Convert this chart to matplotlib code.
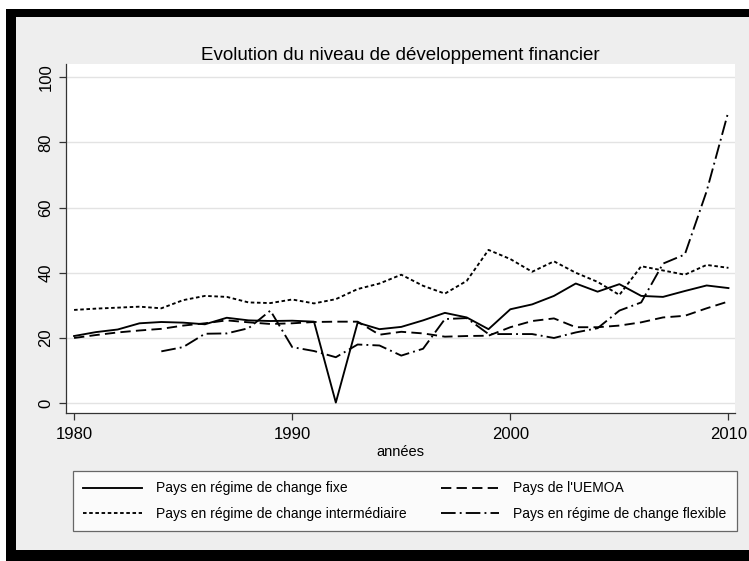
import matplotlib
matplotlib.use("Agg")
import matplotlib.pyplot as plt
from matplotlib.patches import Rectangle

plt.rcParams['font.family'] = ['Liberation Sans', 'DejaVu Sans']

years = list(range(1980, 2011))

fixe = [20.6, 21.8, 22.6, 24.5, 24.9, 24.7, 24.2, 26.2, 25.4, 25.2, 25.3,
        25.0, 0.2, 24.7, 22.7, 23.4, 25.4, 27.7, 26.3, 22.7, 28.8,
        30.3, 32.9, 36.7, 34.2, 36.5, 32.9, 32.6, 34.4, 36.1, 35.3]

uemoa = [20.0, 20.9, 21.7, 22.3, 22.8, 23.8, 24.5, 25.4, 24.8, 24.3, 24.5,
         24.9, 25.0, 25.0, 21.0, 21.9, 21.4, 20.4, 20.6, 20.7, 23.3,
         25.2, 26.0, 23.3, 23.3, 23.8, 24.8, 26.3, 26.8, 29.1, 31.2]

intermediaire = [28.6, 29.0, 29.3, 29.6, 29.1, 31.6, 32.9, 32.6, 30.9, 30.7, 31.8,
                 30.6, 31.9, 35.0, 36.7, 39.4, 36.0, 33.6, 37.5, 47.0, 44.2,
                 40.3, 43.5, 40.0, 37.2, 33.2, 42.0, 40.7, 39.4, 42.4, 41.5]

flexible = [None, None, None, None, 15.9, 17.2, 21.3, 21.4, 23.0, 28.4, 17.2,
            16.0, 14.1, 18.0, 17.7, 14.6, 16.7, 25.8, 26.1, 21.2, 21.2,
            21.2, 20.0, 21.7, 23.0, 28.4, 30.9, 42.8, 45.6, 65.0, 89.5]

labels = ["Pays en régime de change fixe", "Pays de l'UEMOA",
          "Pays en régime de change intermédiaire", "Pays en régime de change flexible"]

W, H = 749, 561
bg = "#eeeeee"
fig = plt.figure(figsize=(W / 100, H / 100), dpi=100)
fig.patch.set_facecolor(bg)

# black frame (top, left, bottom), white strip outside it
def frect(x, y, w, h, c, z):
    fig.patches.append(Rectangle((x / W, 1 - (y + h) / H), w / W, h / H,
                                 transform=fig.transFigure, facecolor=c,
                                 edgecolor="none", zorder=z))

frect(0, 0, W, 9, "white", 0)
frect(0, 0, 6, H, "white", 0)
frect(6, 9, W, 8, "black", 1)
frect(6, 9, 10, H, "black", 1)
frect(6, 550, W, 11, "black", 1)

ax = fig.add_axes([66 / W, (H - 413) / H, (735 - 66) / W, (413 - 64) / H])
ax.set_facecolor("white")

fy = [y for y, v in zip(years, flexible) if v is not None]
fv = [v for v in flexible if v is not None]

lw = 1.35
l1, = ax.plot(years, fixe, color="black", lw=lw, linestyle="-")
l2, = ax.plot(years, uemoa, color="black", lw=lw, linestyle=(0, (5.5, 2.8)))
l3, = ax.plot(years, intermediaire, color="black", lw=lw, linestyle=(0, (1.9, 1.4)))
l4, = ax.plot(fy, fv, color="black", lw=lw, linestyle=(0, (7.8, 2.2, 1.0, 2.2)))

ax.set_xlim(1979.63, 2010.3)
ax.set_ylim(-3, 104)
ax.set_xticks([1980, 1990, 2000, 2010])
ax.set_yticks([0, 20, 40, 60, 80, 100])
ax.yaxis.grid(True, color="#e3e3e3", lw=1)
ax.set_axisbelow(True)
for s in ["top", "right"]:
    ax.spines[s].set_visible(False)
for s in ["left", "bottom"]:
    ax.spines[s].set_color("#333333")
    ax.spines[s].set_linewidth(0.9)
ax.tick_params(axis="both", direction="out", length=5, width=0.9, color="#333333",
               labelsize=12)
ax.tick_params(axis="y", pad=4)
ax.tick_params(axis="x", pad=5)
for t in ax.get_yticklabels():
    t.set_rotation(90)
    t.set_va("center")

ax.set_title("Evolution du niveau de développement financier", fontsize=13.5, pad=2)
ax.set_xlabel("années", fontsize=10.5, labelpad=2)

leg = fig.legend([l1, l3, l2, l4], [labels[0], labels[2], labels[1], labels[3]],
                 ncol=2, loc="upper left",
                 bbox_to_anchor=(73 / W, (H - 471) / H, (737 - 73) / W, 0),
                 mode="expand", fontsize=10, handlelength=4.2, handletextpad=1.0,
                 frameon=True, fancybox=False, borderpad=0.75, labelspacing=0.8,
                 columnspacing=1.0, borderaxespad=0)
leg.get_frame().set_edgecolor("#444444")
leg.get_frame().set_linewidth(0.9)

fig.savefig("out.png", dpi=100, facecolor=bg)
